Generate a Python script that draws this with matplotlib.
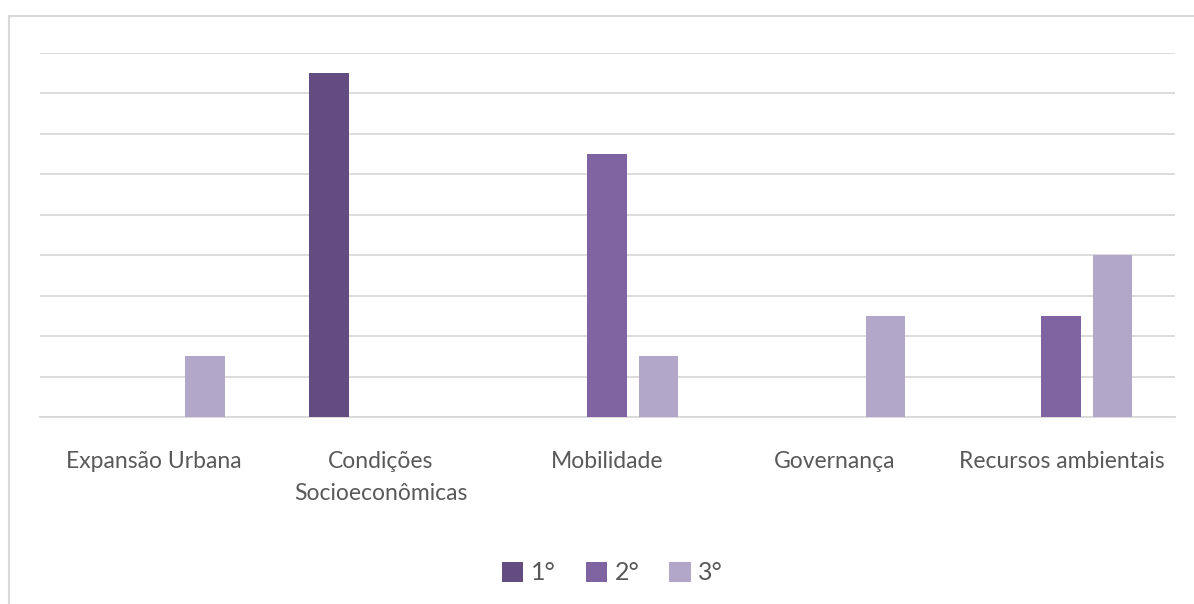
import matplotlib.pyplot as plt
import matplotlib.patches as mpatches
import numpy as np

categories = ['Expansão Urbana', 'Condições\nSocioeconômicas', 'Mobilidade',
              'Governança', 'Recursos ambientais']
series_names = ['1°', '2°', '3°']
first = [0, 17, 0, 0, 0]
second = [0, 0, 13, 0, 5]
third = [3, 0, 3, 5, 8]
colors = ['#634D80', '#8064A2', '#B3A7C9']

plt.rcParams['font.family'] = ['Lato', 'DejaVu Sans']

fig = plt.figure(figsize=(11.94, 6.04), dpi=100)
ax = fig.add_axes([0.0335, 0.3096, 0.9505, 0.6034])

# outer chart frame
fig.patches.append(mpatches.Rectangle((9 / 1194, -0.1), 1.1, 1 - 16 / 604 + 0.1,
                                      transform=fig.transFigure, fill=False,
                                      edgecolor='#D9D9D9', linewidth=1.5))

x = np.arange(len(categories))
width = 0.176
offset = 0.225
for i, (vals, name) in enumerate(zip([first, second, third], series_names)):
    ax.bar(x + (i - 1) * offset, vals, width, color=colors[i], label=name, zorder=3)

ax.set_xlim(-0.5, len(categories) - 0.5)
ax.set_ylim(0, 18)
ax.set_yticks(np.arange(0, 19, 2))
ax.yaxis.grid(True, color='#D9D9D9', linewidth=1.3, zorder=0)
ax.tick_params(axis='y', left=False, labelleft=False)
ax.tick_params(axis='x', bottom=False, pad=21, labelsize=16.5, labelcolor='#595959')
ax.set_xticks(x)
ax.set_xticklabels(categories, linespacing=1.65)
for s in ['top', 'right', 'left']:
    ax.spines[s].set_visible(False)
ax.spines['bottom'].set_color('#D9D9D9')
ax.spines['bottom'].set_linewidth(1.3)

fig.legend(loc='center', bbox_to_anchor=(0.513, 1 - 573 / 604), ncol=3, frameon=False,
           fontsize=18, labelcolor='#595959', handlelength=0.85, handleheight=0.85,
           handletextpad=0.3, columnspacing=1.2)

fig.savefig('out.png', dpi=100)
